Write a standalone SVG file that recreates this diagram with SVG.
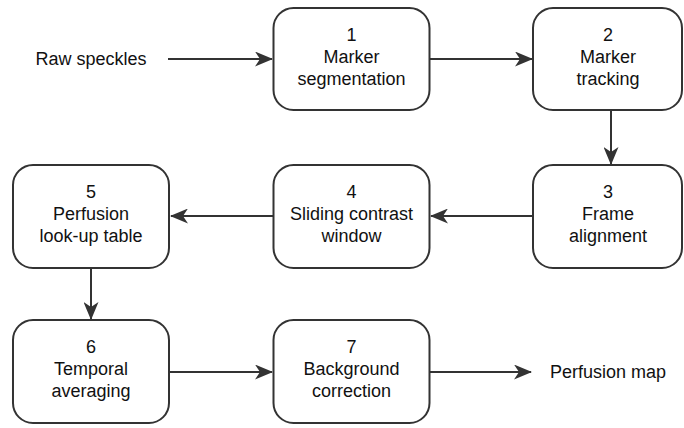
<svg xmlns="http://www.w3.org/2000/svg" width="684" height="428" viewBox="0 0 684 428">
<style>
.box{fill:#ffffff;stroke:#333333;stroke-width:2}
.t{font-family:"Liberation Sans",Arial,sans-serif;font-size:18px;fill:#111111;text-anchor:middle}
.edge{fill:none;stroke:#333333;stroke-width:2;marker-end:url(#ah)}
</style>
<defs>
<marker id="ah" markerUnits="userSpaceOnUse" markerWidth="18" markerHeight="15" refX="17" refY="7.5" orient="auto" viewBox="0 0 18 15">
<path d="M0,0 L18,7.5 L0,15 L5,7.5 Z" fill="#333333"/>
</marker>
</defs>
<rect width="684" height="428" fill="#ffffff"/>
<g id="connectors">
<path class="edge" d="M168,59 L272,59"/>
<path class="edge" d="M430,59 L532,59"/>
<path class="edge" d="M611,110 L611,164"/>
<path class="edge" d="M533,216 L431,216"/>
<path class="edge" d="M273,216 L171,216"/>
<path class="edge" d="M91,268 L91,319"/>
<path class="edge" d="M169,372 L272,372"/>
<path class="edge" d="M430,372 L531,372"/>
</g>
<g id="raw"><text class="t" x="91" y="65">Raw speckles</text></g>
<g id="n1"><rect class="box" x="273.5" y="8" width="156" height="102" rx="20"/>
<text class="t" x="351.5" y="41">1</text><text class="t" x="351.5" y="63">Marker</text><text class="t" x="351.5" y="85">segmentation</text></g>
<g id="n2"><rect class="box" x="533" y="8" width="149" height="102" rx="20"/>
<text class="t" x="608" y="41">2</text><text class="t" x="608" y="63">Marker</text><text class="t" x="608" y="85">tracking</text></g>
<g id="n3"><rect class="box" x="533" y="165" width="149" height="103" rx="20"/>
<text class="t" x="608" y="198">3</text><text class="t" x="608" y="220">Frame</text><text class="t" x="608" y="242">alignment</text></g>
<g id="n4"><rect class="box" x="273.5" y="165" width="156" height="103" rx="20"/>
<text class="t" x="351.5" y="198">4</text><text class="t" x="351.5" y="220">Sliding contrast</text><text class="t" x="351.5" y="242">window</text></g>
<g id="n5"><rect class="box" x="13" y="165" width="156" height="103" rx="20"/>
<text class="t" x="91" y="198">5</text><text class="t" x="91" y="220">Perfusion</text><text class="t" x="91" y="242">look-up table</text></g>
<g id="n6"><rect class="box" x="13" y="320" width="156" height="103" rx="20"/>
<text class="t" x="91" y="353">6</text><text class="t" x="91" y="375">Temporal</text><text class="t" x="91" y="397">averaging</text></g>
<g id="n7"><rect class="box" x="273.5" y="320" width="156" height="103" rx="20"/>
<text class="t" x="351.5" y="353">7</text><text class="t" x="351.5" y="375">Background</text><text class="t" x="351.5" y="397">correction</text></g>
<g id="out"><text class="t" x="608" y="378">Perfusion map</text></g>
</svg>
